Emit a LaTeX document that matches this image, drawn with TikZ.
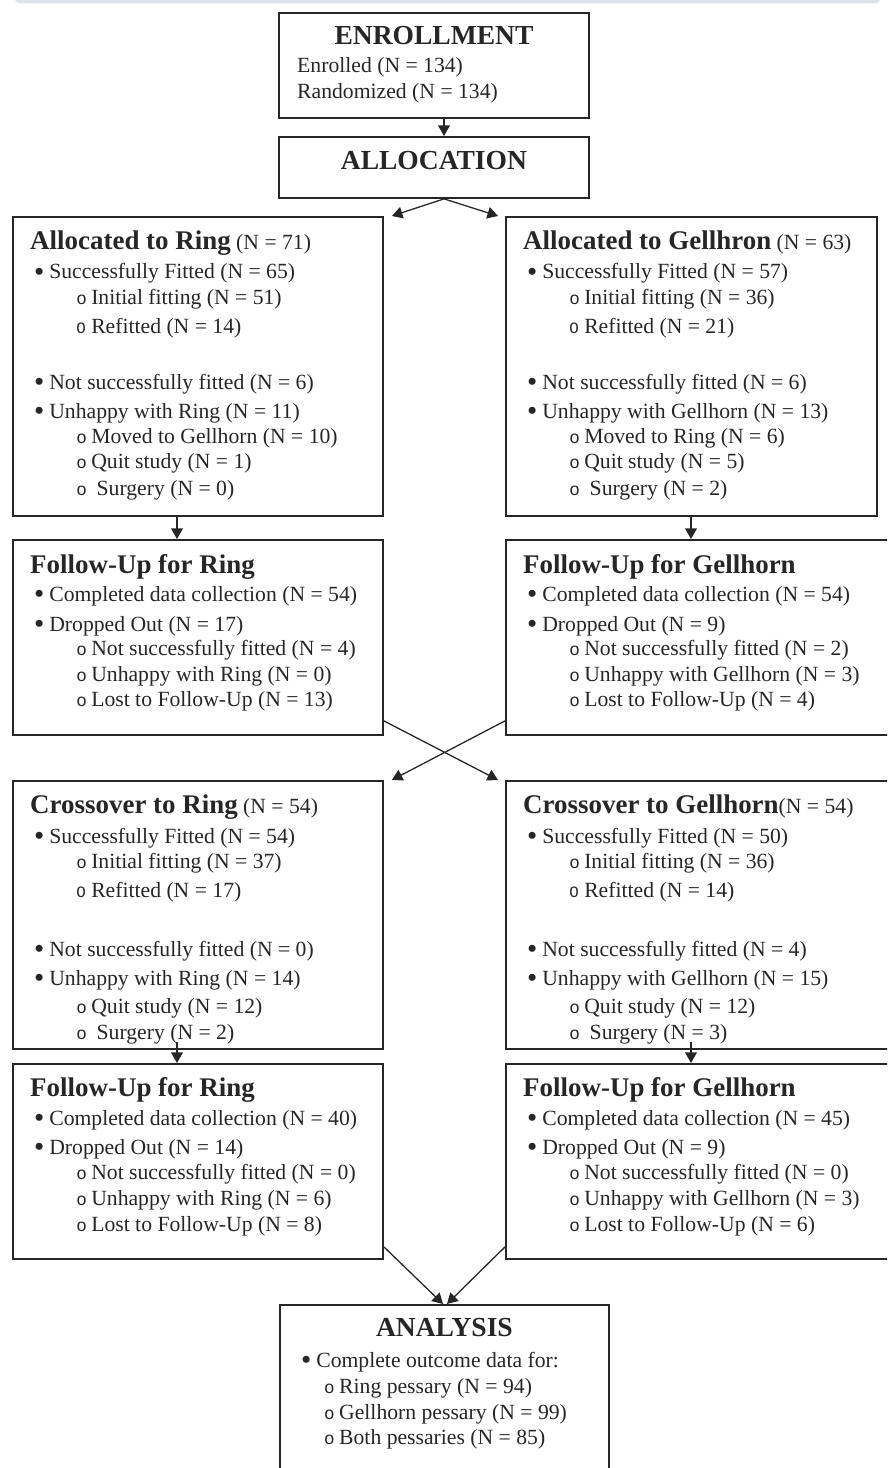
\documentclass[tikz,border=0pt]{standalone}
\usepackage{fontspec}
\setmainfont{Liberation Serif}
\setmonofont{Liberation Mono}
\usetikzlibrary{arrows.meta,positioning,calc}

\definecolor{stripgray}{HTML}{DCE2E9}
\definecolor{inkgray}{HTML}{262626}

% title text, bullet line, circle line
\newcommand{\hd}[1]{{\fontsize{23}{26}\selectfont\bfseries #1}}
\newcommand{\bl}[1]{\hspace*{3.3pt}\makebox[13pt][l]{\raisebox{-2.2pt}{\fontsize{25}{25}\selectfont\textbullet}}#1}
\newcommand{\cl}[2][39.3pt]{\hspace*{#1}\makebox[12.8pt][l]{\ttfamily\fontsize{15}{15}\selectfont o}#2}
\newcommand{\cL}[1]{\hspace*{39.3pt}\makebox[12.8pt][l]{\ttfamily\fontsize{13.5}{15}\selectfont O}#1}

\tikzset{
  box/.style={draw=inkgray, line width=1.6pt, anchor=north west, inner sep=0pt},
  txt/.style={anchor=base west, inner sep=0pt, text=inkgray, font=\fontsize{18.5}{22}\selectfont},
  ttl/.style={anchor=base, inner sep=0pt, text=inkgray, font=\fontsize{23.5}{26}\selectfont\bfseries},
  arr/.style={draw=inkgray, line width=1.1pt, -{Triangle[length=9pt,width=10pt]}}
}

\begin{document}
\begin{tikzpicture}[x=0.03cm, y=-0.03cm]
    \useasboundingbox (0,0) rectangle (887,1468);
    \clip (0,0) rectangle (887,1468);

    % Top strip
    \fill[stripgray, rounded corners=6pt] (14,-20) rectangle (881,3.5);

    % Boxes
    \node[box, minimum width=9.3cm, minimum height=3.15cm] (enroll) at (278,12) {};
    \node[box, minimum width=9.3cm, minimum height=1.83cm] (alloc) at (278,136) {};
    \node[box, minimum width=11.1cm, minimum height=8.97cm] (ring1) at (12,216) {};
    \node[box, minimum width=11.13cm, minimum height=8.97cm] (gel1) at (505,216) {};
    \node[box, minimum width=11.1cm, minimum height=5.85cm] (rfu1) at (12,539) {};
    \node[box, minimum width=11.7cm, minimum height=5.85cm] (gfu1) at (505,539) {};
    \node[box, minimum width=11.1cm, minimum height=8.04cm] (rcx) at (12,780) {};
    \node[box, minimum width=11.7cm, minimum height=8.04cm] (gcx) at (505,780) {};
    \node[box, minimum width=11.1cm, minimum height=5.85cm] (rfu2) at (12,1063) {};
    \node[box, minimum width=11.7cm, minimum height=5.85cm] (gfu2) at (505,1063) {};
    \node[box, minimum width=9.87cm, minimum height=6cm] (analysis) at (279,1304) {};

    % Enrollment and allocation
    \node[ttl] (enroll-t) at ($(enroll.north)+(0,33)$) {ENROLLMENT};
    \node[txt] (enroll-1) at ($(enroll.north west)+(19,61)$) {Enrolled (N = 134)};
    \node[txt] (enroll-2) at ($(enroll.north west)+(19,87)$) {Randomized (N = 134)};
    \node[ttl] (alloc-t) at ($(alloc.north)+(0,34)$) {ALLOCATION};

    % Allocated arms
    \foreach \yy/\tx [count=\i] in {34/{\hd{Allocated to Ring} (N = 71)},
        63/{\bl{Successfully Fitted (N = 65)}}, 89/{\cl{Initial fitting (N = 51)}},
        118/{\cL{Refitted (N = 14)}}, 173/{\bl{Not successfully fitted (N = 6)}},
        202/{\bl{Unhappy with Ring (N = 11)}}, 227/{\cl{Moved to Gellhorn (N = 10)}},
        252/{\cl{Quit study (N = 1)}}, 279/{\cl{~Surgery (N = 0)}}}
      \node[txt] (ring1-\i) at ($(ring1.north west)+(18,\yy)$) {\tx};
    \foreach \yy/\tx [count=\i] in {34/{\hd{Allocated to Gellhron} (N = 63)},
        63/{\bl{Successfully Fitted (N = 57)}}, 89/{\cl{Initial fitting (N = 36)}},
        118/{\cL{Refitted (N = 21)}}, 173/{\bl{Not successfully fitted (N = 6)}},
        202/{\bl{Unhappy with Gellhorn (N = 13)}}, 227/{\cl{Moved to Ring (N = 6)}},
        252/{\cl{Quit study (N = 5)}}, 279/{\cl{~Surgery (N = 2)}}}
      \node[txt] (gel1-\i) at ($(gel1.north west)+(18,\yy)$) {\tx};

    % First follow-up
    \foreach \yy/\tx [count=\i] in {34/{\hd{Follow-Up for Ring}},
        62/{\bl{Completed data collection (N = 54)}}, 92/{\bl{Dropped Out (N = 17)}},
        116/{\cl{Not successfully fitted (N = 4)}}, 142/{\cl{Unhappy with Ring (N = 0)}},
        167/{\cl{Lost to Follow-Up (N = 13)}}}
      \node[txt] (rfu1-\i) at ($(rfu1.north west)+(18,\yy)$) {\tx};
    \foreach \yy/\tx [count=\i] in {34/{\hd{Follow-Up for Gellhorn}},
        62/{\bl{Completed data collection (N = 54)}}, 92/{\bl{Dropped Out (N = 9)}},
        116/{\cl{Not successfully fitted (N = 2)}}, 142/{\cl{Unhappy with Gellhorn (N = 3)}},
        167/{\cl{Lost to Follow-Up (N = 4)}}}
      \node[txt] (gfu1-\i) at ($(gfu1.north west)+(18,\yy)$) {\tx};

    % Crossover arms
    \foreach \yy/\tx [count=\i] in {33/{\hd{Crossover to Ring} (N = 54)},
        63/{\bl{Successfully Fitted (N = 54)}}, 88/{\cl{Initial fitting (N = 37)}},
        117/{\cL{Refitted (N = 17)}}, 176/{\bl{Not successfully fitted (N = 0)}},
        205/{\bl{Unhappy with Ring (N = 14)}}, 233/{\cl{Quit study (N = 12)}},
        259/{\cl{~Surgery (N = 2)}}}
      \node[txt] (rcx-\i) at ($(rcx.north west)+(18,\yy)$) {\tx};
    \foreach \yy/\tx [count=\i] in {33/{\hd{Crossover to Gellhorn}(N = 54)},
        63/{\bl{Successfully Fitted (N = 50)}}, 88/{\cl{Initial fitting (N = 36)}},
        117/{\cL{Refitted (N = 14)}}, 176/{\bl{Not successfully fitted (N = 4)}},
        205/{\bl{Unhappy with Gellhorn (N = 15)}}, 233/{\cl{Quit study (N = 12)}},
        259/{\cl{~Surgery (N = 3)}}}
      \node[txt] (gcx-\i) at ($(gcx.north west)+(18,\yy)$) {\tx};

    % Second follow-up
    \foreach \yy/\tx [count=\i] in {33/{\hd{Follow-Up for Ring}},
        62/{\bl{Completed data collection (N = 40)}}, 91/{\bl{Dropped Out (N = 14)}},
        116/{\cl{Not successfully fitted (N = 0)}}, 142/{\cl{Unhappy with Ring (N = 6)}},
        168/{\cl{Lost to Follow-Up (N = 8)}}}
      \node[txt] (rfu2-\i) at ($(rfu2.north west)+(18,\yy)$) {\tx};
    \foreach \yy/\tx [count=\i] in {33/{\hd{Follow-Up for Gellhorn}},
        62/{\bl{Completed data collection (N = 45)}}, 91/{\bl{Dropped Out (N = 9)}},
        116/{\cl{Not successfully fitted (N = 0)}}, 142/{\cl{Unhappy with Gellhorn (N = 3)}},
        168/{\cl{Lost to Follow-Up (N = 6)}}}
      \node[txt] (gfu2-\i) at ($(gfu2.north west)+(18,\yy)$) {\tx};

    % Analysis
    \node[ttl] (analysis-t) at ($(analysis.north)+(0,32)$) {ANALYSIS};
    \foreach \yy/\tx [count=\i] in {63/{\bl{Complete outcome data for:}},
        89/{\cl[23pt]{Ring pessary (N = 94)}}, 115/{\cl[23pt]{Gellhorn pessary (N = 99)}},
        140/{\cl[23pt]{Both pessaries (N = 85)}}}
      \node[txt] (analysis-\i) at ($(analysis.north west)+(18,\yy)$) {\tx};

    % Connectors
    \coordinate (axis) at (444,0);
    \coordinate (atop) at (analysis.north -| axis);
    \draw[arr] (enroll.south -| axis) -- (alloc.north -| axis);
    \draw[arr] (alloc.south -| axis) -- ($(ring1.north east)+(8,0)$);
    \draw[arr] (alloc.south -| axis) -- ($(gel1.north west)+(-7,0)$);
    \draw[arr] ($(ring1.south west)+(165,0)$) -- ($(rfu1.north west)+(165,0)$);
    \draw[arr] ($(gel1.south west)+(186,0)$) -- ($(gfu1.north west)+(186,0)$);
    \draw[arr] ($(rfu1.south east)+(0,-15)$) -- ($(gcx.north west)+(-7,0)$);
    \draw[arr] ($(gfu1.south west)+(0,-15)$) -- ($(rcx.north east)+(8,0)$);
    \draw[arr] ($(rcx.south west)+(165,-8)$) -- ($(rfu2.north west)+(165,0)$);
    \draw[arr] ($(gcx.south west)+(186,-8)$) -- ($(gfu2.north west)+(186,0)$);
    \draw[arr] ($(rfu2.south east)+(0,-13)$) -- ($(atop)+(-1,0)$);
    \draw[arr] ($(gfu2.south west)+(0,-13)$) -- ($(atop)+(3,0)$);
\end{tikzpicture}
\end{document}
